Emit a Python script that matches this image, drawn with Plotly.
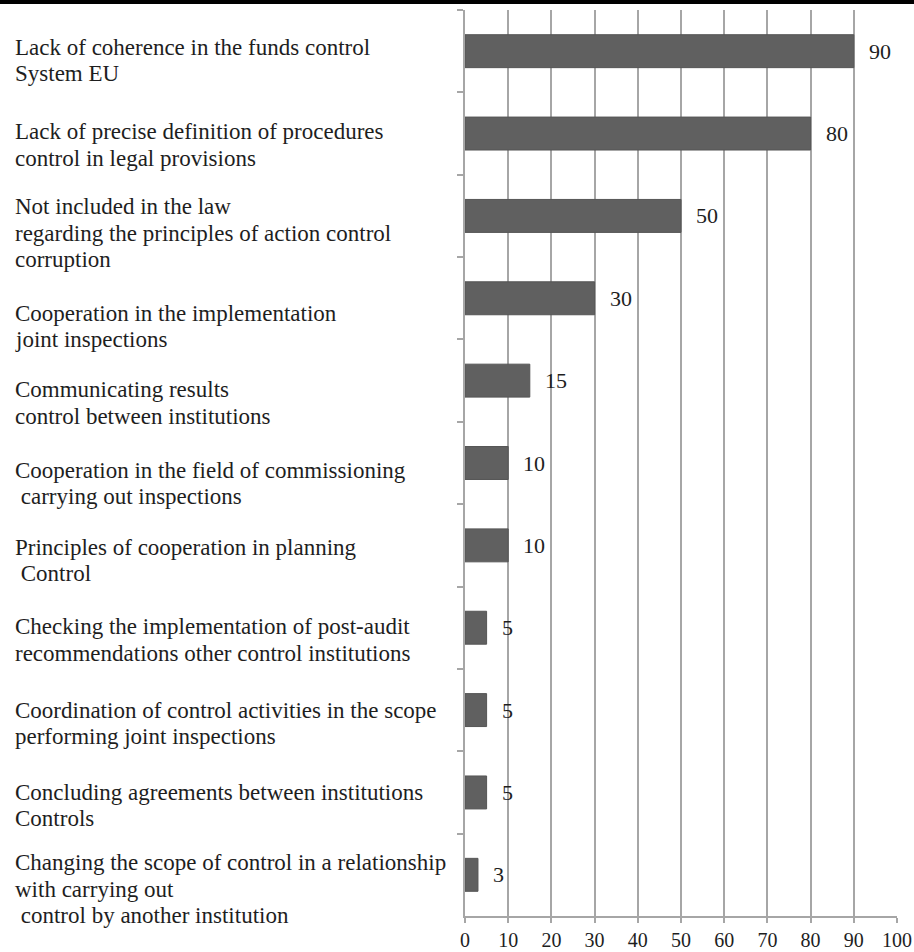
import plotly.graph_objects as go

categories = [
    "Lack of coherence in the funds control<br>System EU",
    "Lack of precise definition of procedures<br>control in legal provisions",
    "Not included in the law<br>regarding the principles of action control<br>corruption",
    "Cooperation in the implementation<br>joint inspections",
    "Communicating results<br>control between institutions",
    "Cooperation in the field of commissioning<br> carrying out inspections",
    "Principles of cooperation in planning<br> Control",
    "Checking the implementation of post-audit<br>recommendations other control institutions",
    "Coordination of control activities in the scope<br>performing joint inspections",
    "Concluding agreements between institutions<br>Controls",
    "Changing the scope of control in a relationship<br>with carrying out<br> control by another institution",
]
values = [90, 80, 50, 30, 15, 10, 10, 5, 5, 5, 3]
x_ticks = [0, 10, 20, 30, 40, 50, 60, 70, 80, 90, 100]

# layout: vertical offset (px, downward) of each label's first line from its bar centre
label_offsets = [-4, -2, -9, 15, 9, 7, 2, -1, 0, 0, -12]

FONT = "Liberation Serif, Times New Roman, serif"
FS = 23
LINE_H = 26.5
GRID = "#a6a6a6"
TXT = "#1e1e1e"
W, H = 914, 952
L, R, T, B = 465, 17, 10, 36
PW = W - L - R
PH = H - T - B

fig = go.Figure(
    go.Bar(
        y=categories,
        x=values,
        orientation="h",
        width=0.4,
        marker=dict(color="#606060", line=dict(color="#555555", width=1)),
        hoverinfo="skip",
    )
)

annotations = []
for cat, off in zip(categories, label_offsets):
    for i, line in enumerate(cat.split("<br>")):
        annotations.append(dict(
            x=(13 - L) / PW, xref="paper", xanchor="left",
            y=cat, yref="y", yanchor="middle",
            yshift=-(off + i * LINE_H),
            text=("&nbsp;" + line[1:]) if line.startswith(" ") else line,
            showarrow=False,
            font=dict(family=FONT, size=FS, color=TXT),
        ))
for cat, v in zip(categories, values):
    annotations.append(dict(
        x=v, xref="x", xanchor="left", xshift=13,
        y=cat, yref="y", yanchor="middle",
        text=str(v), showarrow=False,
        font=dict(family=FONT, size=22, color=TXT),
    ))

fig.update_layout(
    width=W, height=H,
    margin=dict(l=L, r=R, t=T, b=B, pad=0, autoexpand=False),
    paper_bgcolor="white", plot_bgcolor="white",
    showlegend=False,
    annotations=annotations,
    shapes=[dict(type="line", xref="paper", yref="paper",
                 x0=-L / PW, x1=1 + R / PW, y0=1 + 8 / PH, y1=1 + 8 / PH,
                 line=dict(color="black", width=4))],
    xaxis=dict(
        range=[0, 100], tickvals=x_ticks, ticktext=[str(t) for t in x_ticks],
        showgrid=True, gridcolor=GRID, gridwidth=1.5,
        showline=True, linecolor=GRID, linewidth=1.5,
        ticks="outside", ticklen=5, tickcolor=GRID, tickwidth=1.5,
        tickfont=dict(family=FONT, size=20, color=TXT),
        zeroline=False, fixedrange=True, automargin=False,
    ),
    yaxis=dict(
        type="category", autorange="reversed",
        showticklabels=False, showgrid=False,
        showline=True, linecolor=GRID, linewidth=1.5,
        ticks="outside", tickson="boundaries", ticklen=6, tickcolor=GRID, tickwidth=1.5,
        zeroline=False, fixedrange=True, automargin=False,
    ),
)

fig.write_html("out.html")
